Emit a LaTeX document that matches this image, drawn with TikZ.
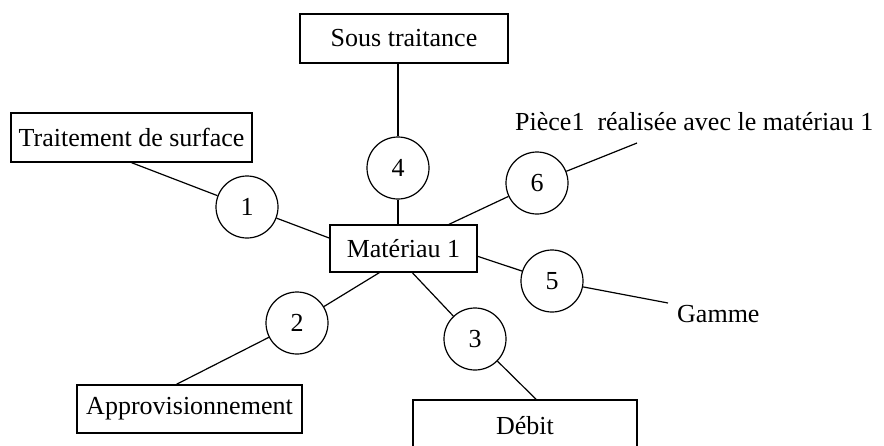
\documentclass[tikz,border=0pt]{standalone}
\usepackage{fontspec}
\setmainfont{Liberation Serif}
\usetikzlibrary{calc}

\tikzset{
  boite/.style={draw,line width=1.3pt,rectangle,inner sep=0pt,
    font=\fontsize{26}{30}\selectfont},
  rond/.style={draw,line width=1.2pt,circle,minimum size=62pt,inner sep=0pt,
    font=\fontsize{26}{30}\selectfont},
  lien/.style={line width=1.2pt},
  libre/.style={font=\fontsize{26}{30}\selectfont,inner sep=0pt}
}

\begin{document}
\begin{tikzpicture}[x=1pt,y=-1pt]
    % page size of the scan
    \useasboundingbox (0,0) rectangle (884,445);
    \clip (0,0) rectangle (884,445);

    % 1) The central box and the boxes round it
    \node[boite,minimum width=147pt,minimum height=47pt] (mat) at (403.5,248.5) {Matériau 1};
    \node[boite,minimum width=208pt,minimum height=49pt] (sous) at (404,38.5) {Sous traitance};
    \node[boite,minimum width=241pt,minimum height=49pt] (trait) at (131.5,137.5) {Traitement de surface};
    \node[boite,minimum width=225pt,minimum height=48pt] (appro) at (189.5,409) {Approvisionnement};
    \node[boite,minimum width=224pt,minimum height=60pt,text depth=0pt] (debit) at (525,430) {\raisebox{10pt}{Débit}};

    % 2) The numbered circles
    \node[rond] (c1) at (247,207) {1};
    \node[rond] (c2) at (297,323) {2};
    \node[rond] (c3) at (475,339) {3};
    \node[rond] (c4) at (398,168) {4};
    \node[rond] (c5) at (552,281) {5};
    \node[rond] (c6) at (537,183) {6};

    % 3) Free texts and the loose ends of their lines
    \node[libre,anchor=base west] (piece) at (515,130) {Pièce1\ \ réalisée avec le matériau 1};
    \node[libre,anchor=base west] (gamme) at (677,322) {Gamme};
    \coordinate (p6) at (637,143);
    \coordinate (p5) at (668,303);

    % 4) Links through the circles
    \draw[lien] (trait.south) -- (c1) -- (mat.172);
    \draw[lien] (sous.south -| c4) -- (c4) -- (c4 |- mat.north);
    \draw[lien] (mat.28) -- (c6) -- (p6);
    \draw[lien] (mat.-6) -- (c5) -- (p5);
    \draw[lien] (mat.-135) -- (c2) -- (appro.118);
    \draw[lien] (mat.-70) -- (c3) -- (debit.70);
\end{tikzpicture}
\end{document}
